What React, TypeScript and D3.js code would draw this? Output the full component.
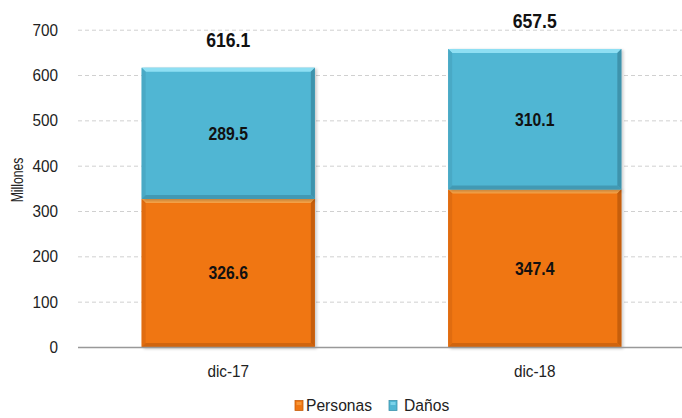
import React from "react";
import * as d3 from "d3";

const categories = ["dic-17", "dic-18"];
const personas = [326.6, 347.4];
const danos = [289.5, 310.1];
const totals = [616.1, 657.5];
const yTicks = [0, 100, 200, 300, 400, 500, 600, 700];
const seriesNames = ["Personas", "Daños"];

const W = 682;
const H = 418;
const FONT = "'Liberation Sans', Arial, sans-serif";

const colors: any = {
  Personas: { main: "#F07612", light: "#F9A549", dark: "#C65E0C", side: "#E06C10", bottom: "#D0640E" },
  Daños: { main: "#50B6D3", light: "#8EDFF3", dark: "#3E93AC", side: "#49A9C5", bottom: "#4299B3" },
};

function NText({ x, y, sx, size, bold, anchor, children, rotate }: any) {
  return (
    <text
      transform={`translate(${x},${y})${rotate ? ` rotate(${rotate})` : ""} scale(${sx},1)`}
      textAnchor={anchor || "middle"}
      fontSize={size}
      fontWeight={bold ? "bold" : "normal"}
      fill={bold ? "#111" : "#222"}
    >
      {children}
    </text>
  );
}

function BevelRect({ x, y, w, h, c }: { x: number; y: number; w: number; h: number; c: any }) {
  const b = 4;
  return (
    <g>
      <rect x={x + 2} y={y + 1} width={w} height={h + 1} fill="#000" opacity={0.2} filter="url(#blur)" />
      <rect x={x} y={y} width={w} height={h} fill={c.main} />
      <polygon points={`${x},${y} ${x + w},${y} ${x + w - b},${y + b} ${x + b},${y + b}`} fill={c.light} />
      <polygon points={`${x},${y} ${x + b},${y + b} ${x + b},${y + h - b} ${x},${y + h}`} fill={c.side} />
      <polygon points={`${x + w},${y} ${x + w},${y + h} ${x + w - b},${y + h - b} ${x + w - b},${y + b}`} fill={c.dark} />
      <polygon points={`${x},${y + h} ${x + b},${y + h - b} ${x + w - b},${y + h - b} ${x + w},${y + h}`} fill={c.bottom} />
    </g>
  );
}

export default function App() {
  const y = d3.scaleLinear().domain([0, 700]).range([347, 29.7]);
  const x = d3.scaleBand().domain(categories).range([75, 688]).paddingInner(0.435).paddingOuter(0.2175);
  const bw = x.bandwidth();
  return (
    <svg width={W} height={H} style={{ position: "absolute", left: 0, top: 0 }} fontFamily={FONT}>
      <defs>
        <filter id="blur" x="-10%" y="-10%" width="120%" height="120%">
          <feGaussianBlur stdDeviation="1.5" />
        </filter>
      </defs>
      <rect width={W} height={H} fill="#fff" />
      {yTicks.filter((t) => t > 0).map((t) => (
        <line key={t} x1={78} x2={W} y1={y(t) + 0.5} y2={y(t) + 0.5} stroke="#d0d0d0" strokeDasharray="4,3" strokeWidth={1} />
      ))}
      {yTicks.map((t) => (
        <NText key={t} x={58} y={y(t) + 6} sx={0.9} size={17} anchor="end">
          {t}
        </NText>
      ))}
      <NText x={23} y={180} sx={0.74} size={16.5} rotate={-90}>
        Millones
      </NText>
      {categories.map((cat, i) => {
        const x0 = x(cat)!;
        const yp = y(personas[i]);
        const yd = y(personas[i] + danos[i]);
        const cx = x0 + bw / 2;
        return (
          <g key={cat}>
            <BevelRect x={x0} y={yp} w={bw} h={y(0) - yp} c={colors.Personas} />
            <BevelRect x={x0} y={yd} w={bw} h={yp - yd} c={colors["Daños"]} />
            <NText x={cx} y={(yp + y(0)) / 2 + 6.3} sx={0.9} size={17.5} bold>
              {personas[i].toFixed(1)}
            </NText>
            <NText x={cx} y={(yd + yp) / 2 + 6.3} sx={0.9} size={17.5} bold>
              {danos[i].toFixed(1)}
            </NText>
            <NText x={cx} y={y(totals[i]) - 21} sx={0.88} size={20} bold>
              {totals[i].toFixed(1)}
            </NText>
            <NText x={cx} y={377} sx={0.9} size={17}>
              {cat}
            </NText>
          </g>
        );
      })}
      <line x1={78} x2={W} y1={y(0) + 0.5} y2={y(0) + 0.5} stroke="#999" strokeWidth={1.5} />
      {seriesNames.map((s, i) => {
        const lx = [295, 389][i];
        const tx = [306, 404][i];
        const c = colors[s];
        return (
          <g key={s}>
            <rect x={lx} y={400.5} width={8} height={10} fill={c.main} stroke={c.dark} strokeWidth={0.8} />
            <rect x={lx + 1.5} y={402} width={5} height={3} fill={c.light} opacity={0.7} />
            <NText x={tx} y={411} sx={0.92} size={17} anchor="start">
              {s}
            </NText>
          </g>
        );
      })}
    </svg>
  );
}
